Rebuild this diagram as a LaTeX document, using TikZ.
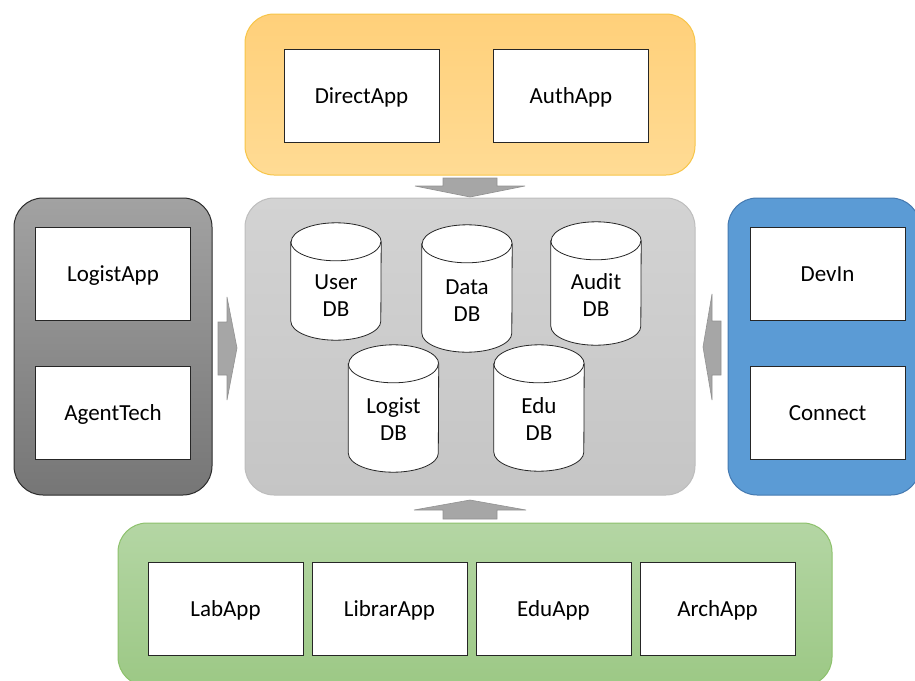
\documentclass[tikz,border=0pt]{standalone}
\usepackage{fontspec}
\setmainfont{Carlito}
\definecolor{orangetop}{HTML}{FFD07A}
\definecolor{orangebot}{HTML}{FFDB94}
\definecolor{orangeedge}{HTML}{F7C548}
\definecolor{coretop}{HTML}{D3D3D3}
\definecolor{corebot}{HTML}{C5C5C5}
\definecolor{coreedge}{HTML}{BDBDBD}
\definecolor{darktop}{HTML}{A2A2A2}
\definecolor{darkbot}{HTML}{767676}
\definecolor{darkedge}{HTML}{2B2B2B}
\definecolor{bluefill}{HTML}{5B9BD5}
\definecolor{blueedge}{HTML}{4479B0}
\definecolor{greentop}{HTML}{B4D6A4}
\definecolor{greenbot}{HTML}{9CC885}
\definecolor{greenedge}{HTML}{8DC16C}
\definecolor{arrowfill}{HTML}{A6A6A6}
\definecolor{arrowedge}{HTML}{929292}

\tikzset{
  group/.style={rectangle, rounded corners=29pt, line width=1pt, inner sep=0pt},
  appbox/.style={rectangle, draw=black!85, fill=white, line width=0.8pt,
    minimum width=155pt, minimum height=93pt, inner sep=0pt,
    text height=20pt, text depth=4pt},
  dbshape/.style={rectangle, minimum width=90pt, inner sep=0pt},
  dbline/.style={draw=black!85, fill=white, line width=0.8pt},
  dbtext/.style={align=center, inner sep=0pt},
  blockarrow/.style={fill=arrowfill, draw=arrowedge, line width=0.6pt, line join=miter}
}

% cylinder outline around an (invisible) rectangle node
\newcommand\dbcylinder[1]{%
  \draw[dbline] ([yshift=-19pt]#1.north west) -- ([yshift=19pt]#1.south west)
    arc[start angle=180, end angle=360, x radius=45pt, y radius=19pt]
    -- ([yshift=-19pt]#1.north east)
    arc[start angle=0, end angle=180, x radius=45pt, y radius=19pt] -- cycle;
  \draw[dbline, fill=none] ([yshift=-19pt]#1.north west)
    arc[start angle=180, end angle=360, x radius=45pt, y radius=19pt];
}

\begin{document}
\begin{tikzpicture}[x=1pt, y=1pt, font=\fontsize{23}{27}\selectfont]
\useasboundingbox (0,0) rectangle (915,-680);
\clip (0,0) rectangle (915,-680);

% tier containers
\node[group, top color=orangetop, bottom color=orangebot, draw=orangeedge,
  minimum width=450pt, minimum height=161pt] (toptier) at (470,-94.5) {};
\node[group, top color=coretop, bottom color=corebot, draw=coreedge,
  minimum width=450pt, minimum height=297pt] (core) at (470,-346.5) {};
\node[group, top color=darktop, bottom color=darkbot, draw=darkedge,
  minimum width=198pt, minimum height=297pt] (lefttier) at (113,-346.5) {};
\node[group, fill=bluefill, draw=blueedge,
  minimum width=192pt, minimum height=297pt] (righttier) at (824,-346.5) {};
\node[group, top color=greentop, bottom color=greenbot, draw=greenedge,
  minimum width=714pt, minimum height=163pt] (bottomtier) at (475,-604.5) {};

% applications
\node[appbox] (directapp) at (361.5,-95.5) {DirectApp};
\node[appbox] (authapp) at (571,-95.5) {AuthApp};
\node[appbox] (logistapp) at (113,-273.5) {LogistApp};
\node[appbox] (agenttech) at (113,-412.5) {AgentTech};
\node[appbox] (devin) at (827.5,-273.5) {DevIn};
\node[appbox] (connect) at (827.5,-412.5) {Connect};
\node[appbox] (labapp) at (225.5,-608.5) {LabApp};
\node[appbox] (librarapp) at (389.5,-608.5) {LibrarApp};
\node[appbox] (eduapp) at (553.5,-608.5) {EduApp};
\node[appbox] (archapp) at (717.5,-608.5) {ArchApp};

% databases
\node[dbshape, minimum height=117pt] (userdb) at (336,-281.5) {};
\node[dbshape, minimum height=127pt] (datadb) at (467,-288.5) {};
\node[dbshape, minimum height=123pt] (auditdb) at (596,-283.5) {};
\node[dbshape, minimum height=127pt] (logistdb) at (393.5,-408.5) {};
\node[dbshape, minimum height=126pt] (edudb) at (539,-408) {};
\dbcylinder{userdb}
\dbcylinder{datadb}
\dbcylinder{auditdb}
\dbcylinder{logistdb}
\dbcylinder{edudb}
\node[dbtext] (userdbt) at (336,-295.5) {User\\DB};
\node[dbtext] (datadbt) at (467,-300.5) {Data\\DB};
\node[dbtext] (auditdbt) at (596,-295.5) {Audit\\DB};
\node[dbtext] (logistdbt) at (393.5,-419.5) {Logist\\DB};
\node[dbtext] (edudbt) at (539,-419.5) {Edu\\DB};

% block arrows into the data core
\draw[blockarrow] (443,-178) -- (497,-178) -- (497,-186) -- (525,-186)
  -- (470,-197) -- (415,-186) -- (443,-186) -- cycle;
\draw[blockarrow] (470,-500) -- (526,-510) -- (497,-510) -- (497,-519)
  -- (443,-519) -- (443,-510) -- (414,-510) -- cycle;
\draw[blockarrow] (218,-322) -- (227,-322) -- (227,-297) -- (237,-348)
  -- (227,-400) -- (227,-375) -- (218,-375) -- cycle;
\draw[blockarrow] (721,-321) -- (712,-321) -- (712,-294) -- (703,-347)
  -- (712,-400) -- (712,-375) -- (721,-375) -- cycle;
\end{tikzpicture}
\end{document}
